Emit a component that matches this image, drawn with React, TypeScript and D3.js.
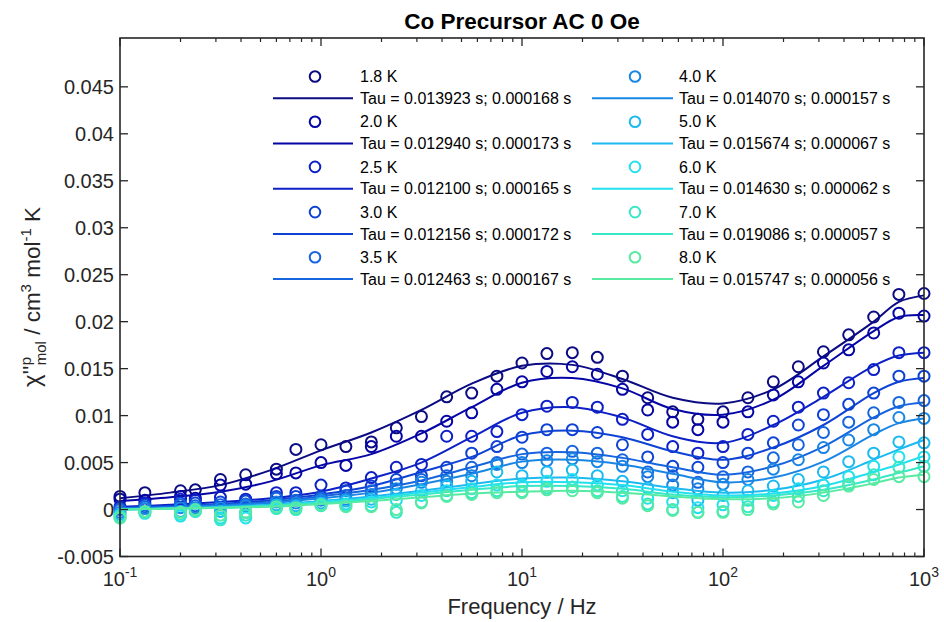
import React from "react";
import * as d3 from "d3";

// Frequencies of measured points (Hz)
const FREQS = [0.1, 0.133, 0.2, 0.237, 0.316, 0.422, 0.6, 0.75, 1, 1.33, 1.78, 2.37, 3.16, 4.22, 5.62, 7.5, 10, 13.3, 17.8, 23.7, 31.6, 42.2, 56.2, 75, 100, 133, 178, 237, 316, 422, 562, 750, 1000];
// Frequencies at which the fit curves were read
const FIT_FREQS = [0.1, 0.178, 0.316, 0.562, 1, 1.78, 3.16, 5.62, 10, 17.8, 31.6, 56.2, 100, 178, 316, 562, 750, 1000];

const TEMPS = ["1.8 K", "2.0 K", "2.5 K", "3.0 K", "3.5 K", "4.0 K", "5.0 K", "6.0 K", "7.0 K", "8.0 K"];
const TAU_LABELS = [
  "Tau = 0.013923 s; 0.000168 s",
  "Tau = 0.012940 s; 0.000173 s",
  "Tau = 0.012100 s; 0.000165 s",
  "Tau = 0.012156 s; 0.000172 s",
  "Tau = 0.012463 s; 0.000167 s",
  "Tau = 0.014070 s; 0.000157 s",
  "Tau = 0.015674 s; 0.000067 s",
  "Tau = 0.014630 s; 0.000062 s",
  "Tau = 0.019086 s; 0.000057 s",
  "Tau = 0.015747 s; 0.000056 s",
];
const COLORS = ["#0b0b82", "#0505a6", "#0c20c6", "#0e42d4", "#1664de", "#1a86e4", "#1cbaf0", "#22e0ee", "#36e8c6", "#58eaa2"];

// Measured chi'' values
const data18 = [0.0014, 0.0018, 0.0020, 0.0021, 0.0032, 0.0037, 0.0043, 0.0064, 0.0069, 0.0067, 0.0072, 0.0087, 0.0099, 0.0120, 0.0124, 0.0142, 0.0156, 0.0166, 0.0167, 0.0162, 0.0142, 0.0119, 0.0104, 0.0096, 0.0104, 0.0119, 0.0136, 0.0152, 0.0168, 0.0186, 0.0205, 0.0229, 0.0230];
const data20 = [0.0011, 0.0010, 0.0014, 0.0012, 0.0026, 0.0027, 0.0038, 0.0039, 0.0050, 0.0047, 0.0067, 0.0078, 0.0078, 0.0094, 0.0103, 0.0128, 0.0136, 0.0147, 0.0152, 0.0144, 0.0128, 0.0106, 0.0093, 0.0085, 0.0093, 0.0104, 0.0122, 0.0136, 0.0156, 0.0170, 0.0188, 0.0209, 0.0206];
const data25 = [0.0003, 0.0007, 0.0011, 0.0010, 0.0013, 0.0011, 0.0018, 0.0018, 0.0026, 0.0023, 0.0034, 0.0045, 0.0048, 0.0078, 0.0078, 0.0083, 0.0101, 0.0110, 0.0114, 0.0109, 0.0096, 0.0080, 0.0067, 0.0060, 0.0067, 0.0080, 0.0094, 0.0109, 0.0124, 0.0135, 0.0149, 0.0167, 0.0167];
const data30 = [0.0001, 0.0005, 0.0007, 0.0007, 0.0008, 0.0009, 0.0014, 0.0014, 0.0014, 0.0020, 0.0025, 0.0032, 0.0036, 0.0045, 0.0060, 0.0067, 0.0077, 0.0085, 0.0085, 0.0082, 0.0069, 0.0056, 0.0046, 0.0045, 0.0050, 0.0060, 0.0071, 0.0090, 0.0101, 0.0112, 0.0124, 0.0142, 0.0142];
const data35 = [0.0000, 0.0003, 0.0005, 0.0004, 0.0005, 0.0006, 0.0012, 0.0010, 0.0012, 0.0015, 0.0020, 0.0027, 0.0032, 0.0036, 0.0045, 0.0050, 0.0059, 0.0060, 0.0062, 0.0060, 0.0053, 0.0040, 0.0036, 0.0029, 0.0035, 0.0040, 0.0055, 0.0069, 0.0082, 0.0093, 0.0103, 0.0114, 0.0116];
const data40 = [-0.0003, 0.0001, 0.0002, 0.0002, 0.0002, 0.0004, 0.0008, 0.0007, 0.0010, 0.0011, 0.0016, 0.0022, 0.0029, 0.0030, 0.0036, 0.0048, 0.0050, 0.0052, 0.0054, 0.0051, 0.0046, 0.0035, 0.0026, 0.0022, 0.0027, 0.0032, 0.0043, 0.0053, 0.0066, 0.0074, 0.0085, 0.0098, 0.0097];
const data50 = [-0.0005, -0.0002, -0.0002, 0.0000, -0.0002, -0.0003, 0.0005, 0.0004, 0.0007, 0.0009, 0.0011, 0.0016, 0.0020, 0.0025, 0.0030, 0.0040, 0.0036, 0.0040, 0.0042, 0.0036, 0.0030, 0.0023, 0.0018, 0.0010, 0.0015, 0.0020, 0.0025, 0.0032, 0.0040, 0.0051, 0.0060, 0.0072, 0.0071];
const data60 = [-0.0009, -0.0004, -0.0007, -0.0002, -0.0009, -0.0009, 0.0002, 0.0001, 0.0005, 0.0006, 0.0008, 0.0010, 0.0015, 0.0020, 0.0022, 0.0026, 0.0026, 0.0030, 0.0032, 0.0026, 0.0020, 0.0012, 0.0008, 0.0002, 0.0005, 0.0010, 0.0015, 0.0022, 0.0026, 0.0035, 0.0046, 0.0056, 0.0056];
const data70 = [-0.0007, -0.0003, -0.0005, -0.0002, -0.0011, -0.0006, 0.0001, 0.0000, 0.0004, 0.0004, 0.0004, -0.0003, 0.0008, 0.0015, 0.0018, 0.0020, 0.0019, 0.0023, 0.0024, 0.0020, 0.0014, 0.0006, 0.0000, -0.0003, -0.0002, 0.0003, 0.0008, 0.0014, 0.0020, 0.0027, 0.0037, 0.0045, 0.0046];
const data80 = [-0.0009, -0.0002, -0.0003, 0.0000, -0.0006, -0.0003, 0.0003, 0.0002, 0.0005, 0.0003, 0.0003, 0.0000, 0.0007, 0.0014, 0.0016, 0.0018, 0.0018, 0.0021, 0.0020, 0.0018, 0.0012, 0.0004, -0.0001, -0.0003, -0.0003, 0.0000, 0.0006, 0.0008, 0.0015, 0.0025, 0.0032, 0.0035, 0.0035];

// Fit curves, read at FIT_FREQS
const fit18 = [0.0012, 0.0018, 0.0026, 0.0042, 0.0063, 0.0082, 0.0106, 0.0134, 0.0153, 0.0154, 0.0139, 0.0119, 0.0113, 0.0128, 0.0163, 0.0200, 0.0221, 0.0228];
const fit20 = [0.0009, 0.0013, 0.0019, 0.0030, 0.0047, 0.0059, 0.0081, 0.0109, 0.0135, 0.0140, 0.0129, 0.0107, 0.0101, 0.0117, 0.0153, 0.0190, 0.0205, 0.0207];
const fit25 = [0.0003, 0.0005, 0.0008, 0.0012, 0.0019, 0.0033, 0.0050, 0.0077, 0.0103, 0.0109, 0.0098, 0.0078, 0.0071, 0.0090, 0.0120, 0.0153, 0.0164, 0.0167];
const fit30 = [0.0002, 0.0004, 0.0006, 0.0010, 0.0016, 0.0025, 0.0040, 0.0056, 0.0079, 0.0084, 0.0077, 0.0062, 0.0053, 0.0066, 0.0090, 0.0124, 0.0136, 0.0140];
const fit35 = [0.0001, 0.0003, 0.0005, 0.0008, 0.0014, 0.0021, 0.0031, 0.0045, 0.0059, 0.0061, 0.0055, 0.0045, 0.0037, 0.0046, 0.0067, 0.0098, 0.0110, 0.0114];
const fit40 = [0.0001, 0.0002, 0.0004, 0.0007, 0.0012, 0.0018, 0.0027, 0.0038, 0.0051, 0.0053, 0.0048, 0.0038, 0.0029, 0.0034, 0.0051, 0.0080, 0.0092, 0.0097];
const fit50 = [0.0000, 0.0001, 0.0003, 0.0005, 0.0009, 0.0014, 0.0020, 0.0027, 0.0033, 0.0034, 0.0030, 0.0023, 0.0018, 0.0021, 0.0032, 0.0053, 0.0064, 0.0074];
const fit60 = [0.0000, 0.0001, 0.0002, 0.0004, 0.0008, 0.0012, 0.0018, 0.0024, 0.0029, 0.0029, 0.0026, 0.0019, 0.0015, 0.0017, 0.0025, 0.0040, 0.0048, 0.0057];
const fit70 = [0.0000, 0.0001, 0.0002, 0.0004, 0.0007, 0.0011, 0.0016, 0.0021, 0.0025, 0.0025, 0.0022, 0.0016, 0.0013, 0.0015, 0.0021, 0.0032, 0.0039, 0.0046];
const fit80 = [0.0000, 0.0001, 0.0002, 0.0003, 0.0006, 0.0009, 0.0013, 0.0017, 0.0019, 0.0020, 0.0018, 0.0014, 0.0011, 0.0012, 0.0018, 0.0028, 0.0034, 0.0037];

const DATA = [data18, data20, data25, data30, data35, data40, data50, data60, data70, data80];
const FITS = [fit18, fit20, fit25, fit30, fit35, fit40, fit50, fit60, fit70, fit80];

const Y_TICKS = [-0.005, 0, 0.005, 0.01, 0.015, 0.02, 0.025, 0.03, 0.035, 0.04, 0.045];
const X_DECADES = [0.1, 1, 10, 100, 1000];
const X_EXPONENTS = ["-1", "0", "1", "2", "3"];

const FONT = "'Liberation Sans', Arial, Helvetica, sans-serif";
const AXIS = "#262626";

export default function App() {
  const W = 944, H = 622;
  const L = 120, R = 924, T = 38, B = 556.5;
  const x = d3.scaleLog().domain([0.1, 1000]).range([L, R]);
  const y = d3.scaleLinear().domain([-0.005, 0.0502]).range([B, T]);

  const line = d3
    .line<[number, number]>()
    .x((d) => x(d[0]))
    .y((d) => y(d[1]))
    .curve(d3.curveCatmullRom.alpha(0.5));

  const minorTicks: number[] = [];
  for (let dec = 0.1; dec < 1000; dec *= 10) {
    for (let m = 2; m <= 9; m++) minorTicks.push(dec * m);
  }

  const yFmt = (v: number) => (v === 0 ? "0" : String(+v.toFixed(3)));

  return (
    <svg
      width={W}
      height={H}
      style={{ position: "absolute", left: 0, top: 0, display: "block", background: "#fff" }}
      fontFamily={FONT}
    >
      <rect x={0} y={0} width={W} height={H} fill="#fff" />
      <defs>
        <clipPath id="plotClip">
          <rect x={L - 8} y={T} width={R - L + 16} height={B - T} />
        </clipPath>
      </defs>

      {/* series */}
      <g clipPath="url(#plotClip)">
        {DATA.map((vals, i) => (
          <g key={i}>
            {vals.map((v, j) => (
              <circle key={j} cx={x(FREQS[j])} cy={y(v)} r={5.5} fill="none" stroke={COLORS[i]} strokeWidth={2} />
            ))}
            <path
              d={line(FITS[i].map((v, j) => [FIT_FREQS[j], v] as [number, number])) || ""}
              fill="none"
              stroke={COLORS[i]}
              strokeWidth={2}
            />
          </g>
        ))}
      </g>

      {/* axes box */}
      <rect x={L} y={T} width={R - L} height={B - T} fill="none" stroke={AXIS} strokeWidth={1.6} />

      {/* y ticks */}
      {Y_TICKS.map((v) => (
        <g key={v}>
          <line x1={L} x2={L + 8} y1={y(v)} y2={y(v)} stroke={AXIS} strokeWidth={1.3} />
          <line x1={R} x2={R - 8} y1={y(v)} y2={y(v)} stroke={AXIS} strokeWidth={1.3} />
          <text x={L - 6} y={y(v) + 7} textAnchor="end" fontSize={20} fill={AXIS}>
            {yFmt(v)}
          </text>
        </g>
      ))}

      {/* x ticks */}
      {X_DECADES.map((v, i) => (
        <g key={v}>
          <line x1={x(v)} x2={x(v)} y1={B} y2={B - 8} stroke={AXIS} strokeWidth={1.3} />
          <line x1={x(v)} x2={x(v)} y1={T} y2={T + 8} stroke={AXIS} strokeWidth={1.3} />
          <text x={x(v)} y={586} textAnchor="middle" fontSize={20} fill={AXIS}>
            10
            <tspan dy={-9} fontSize={14}>
              {X_EXPONENTS[i]}
            </tspan>
          </text>
        </g>
      ))}
      {minorTicks.map((v) => (
        <g key={v}>
          <line x1={x(v)} x2={x(v)} y1={B} y2={B - 4} stroke={AXIS} strokeWidth={1.2} />
          <line x1={x(v)} x2={x(v)} y1={T} y2={T + 4} stroke={AXIS} strokeWidth={1.2} />
        </g>
      ))}

      {/* title */}
      <text x={(L + R) / 2} y={29} textAnchor="middle" fontSize={22.5} fontWeight="bold" fill="#000">
        Co Precursor AC 0 Oe
      </text>

      {/* x label */}
      <text x={(L + R) / 2} y={614} textAnchor="middle" fontSize={22} fill={AXIS}>
        Frequency / Hz
      </text>

      {/* y label */}
      <text transform="translate(40,297) rotate(-90)" textAnchor="middle" fontSize={22.5} fill={AXIS}>
        <tspan fontSize={24}>χ''</tspan>
        <tspan dy={-9} fontSize={15}>p</tspan>
        <tspan dx={-8.3} dy={15} fontSize={15}>mol</tspan>
        <tspan dy={-6}>{"\u00a0/ cm"}</tspan>
        <tspan dy={-9} fontSize={15}>3</tspan>
        <tspan dy={9}>{"\u00a0mol"}</tspan>
        <tspan dy={-9} fontSize={15}>-1</tspan>
        <tspan dy={9}>{"\u00a0K"}</tspan>
      </text>

      {/* legend */}
      {TEMPS.map((t, i) => {
        const col = i < 5 ? 0 : 1;
        const row = i % 5;
        const cx = col === 0 ? 315 : 635;
        const lx1 = col === 0 ? 273 : 592;
        const lx2 = col === 0 ? 353 : 673;
        const tx = col === 0 ? 360 : 679;
        const cy = 76.5 + row * 45.2;
        const ly = cy + 21.8;
        return (
          <g key={t}>
            <circle cx={cx} cy={cy} r={5.3} fill="none" stroke={COLORS[i]} strokeWidth={2} />
            <text x={tx} y={cy + 5.6} fontSize={16} fill="#000">
              {t}
            </text>
            <line x1={lx1} x2={lx2} y1={ly} y2={ly} stroke={COLORS[i]} strokeWidth={2} />
            <text x={tx} y={ly + 5.6} fontSize={16} fill="#000">
              {TAU_LABELS[i]}
            </text>
          </g>
        );
      })}
    </svg>
  );
}
